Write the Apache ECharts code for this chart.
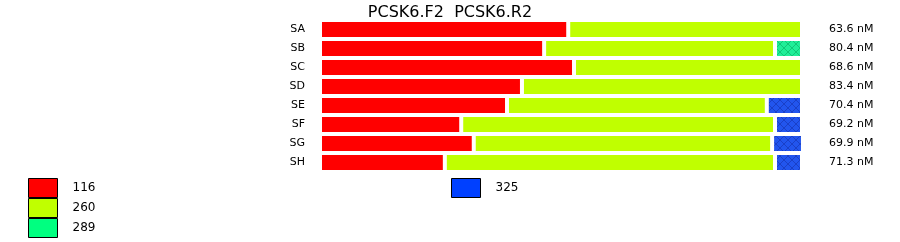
<!DOCTYPE html>
<html>
<head>
<meta charset="utf-8">
<script src="https://cdn.jsdelivr.net/npm/echarts@6/dist/echarts.min.js"></script>
<style>
html,body{margin:0;padding:0;background:#fff;}
#c{width:900px;height:242px;}
</style>
</head>
<body>
<div id="c"></div>
<script>
const categories = ['SA','SB','SC','SD','SE','SF','SG','SH'];
const concLabels = ['63.6 nM','80.4 nM','68.6 nM','83.4 nM','70.4 nM','69.2 nM','69.9 nM','71.3 nM'];
const s116 = [51.5, 46.5, 52.7, 41.9, 38.8, 29.3, 31.9, 25.9];
const s260 = [48.5, 47.9, 47.3, 58.1, 53.9, 65.1, 61.9, 68.5];
const s289 = [0, 5.6, 0, 0, 0, 0, 0, 0];
const s325 = [0, 0, 0, 0, 7.3, 5.6, 6.4, 5.6];
const seriesNames = ['116','260','289','325'];
const titleText = 'PCSK6.F2  PCSK6.R2';

function hatch(base, line){
  const c = document.createElement('canvas');
  c.width = 8; c.height = 8;
  const g = c.getContext('2d');
  g.fillStyle = base; g.fillRect(0,0,8,8);
  g.strokeStyle = line; g.lineWidth = 1;
  g.beginPath();
  g.moveTo(0,0); g.lineTo(8,8);
  g.moveTo(8,0); g.lineTo(0,8);
  g.stroke();
  return {image: c, repeat: 'repeat'};
}

const FONT = 'DejaVu Sans';
const chart = echarts.init(document.getElementById('c'), null, {renderer:'canvas'});
const barStyle = (color) => ({color: color, borderColor:'#fff', borderWidth:2});
const legendItem = (name, color) => ({name: name, icon:'rect', itemStyle:{color: color, borderColor:'#000', borderWidth:1}});
const legendText = {fontFamily: FONT, fontSize: 12, color:'#000', lineHeight: 19, padding:[0,0,0,10]};

chart.setOption({
  animation: false,
  backgroundColor: '#fff',
  title: {
    text: titleText, left: 'center', top: 0,
    textStyle: {fontFamily: FONT, fontSize: 16, fontWeight: 'normal', color: '#000'}
  },
  legend: [
    {
      orient: 'vertical', left: 28, top: 178, height: 64, padding: 0,
      itemWidth: 29, itemHeight: 19, itemGap: 0,
      selectedMode: false,
      data: [legendItem('116','#ff0000'), legendItem('260','#c0ff00'), legendItem('289','#00ff80')],
      textStyle: legendText
    },
    {
      orient: 'vertical', left: 451, top: 178, padding: 0,
      itemWidth: 29, itemHeight: 19, itemGap: 0,
      selectedMode: false,
      data: [legendItem('325','#0040ff')],
      textStyle: legendText
    }
  ],
  grid: {left: 320, right: 98, top: 20, bottom: 70, containLabel: false},
  xAxis: {type:'value', min:0, max:100, show:false},
  yAxis: [
    {
      type:'category', data: categories, inverse: true,
      axisLine:{show:false}, axisTick:{show:false}, splitLine:{show:false},
      axisLabel:{margin:15, fontFamily: FONT, fontSize: 11, color:'#000'}
    },
    {
      type:'category', data: concLabels, inverse: true, position:'right',
      axisLine:{show:false}, axisTick:{show:false}, splitLine:{show:false},
      axisLabel:{margin:27, fontFamily: FONT, fontSize: 11, color:'#000'}
    }
  ],
  series: [
    {name: seriesNames[0], type:'bar', stack:'a', data: s116, barWidth: 19, itemStyle: barStyle('#ff0000')},
    {name: seriesNames[1], type:'bar', stack:'a', data: s260, barWidth: 19, itemStyle: barStyle('#c0ff00')},
    {name: seriesNames[2], type:'bar', stack:'a', data: s289, barWidth: 19, itemStyle: barStyle(hatch('#20ee98','#10c878'))},
    {name: seriesNames[3], type:'bar', stack:'a', data: s325, barWidth: 19, itemStyle: barStyle(hatch('#2255ee','#1a40c8'))}
  ]
});
</script>
</body>
</html>
